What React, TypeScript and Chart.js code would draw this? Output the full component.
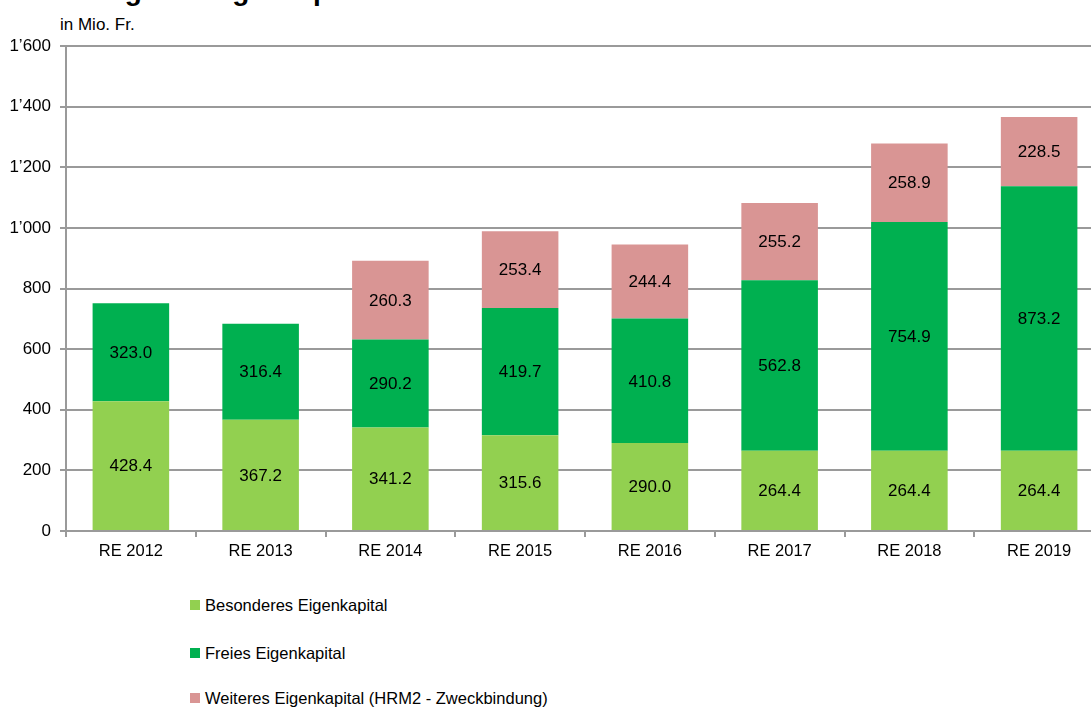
import React, { useEffect, useRef } from "react";
import { Chart, registerables } from "chart.js";

Chart.register(...registerables);

const categories = ["RE 2012", "RE 2013", "RE 2014", "RE 2015", "RE 2016", "RE 2017", "RE 2018", "RE 2019"];
const besonderes = [428.4, 367.2, 341.2, 315.6, 290.0, 264.4, 264.4, 264.4];
const freies = [323.0, 316.4, 290.2, 419.7, 410.8, 562.8, 754.9, 873.2];
const weiteres = [null, null, 260.3, 253.4, 244.4, 255.2, 258.9, 228.5];
const seriesNames = ["Besonderes Eigenkapital", "Freies Eigenkapital", "Weiteres Eigenkapital (HRM2 - Zweckbindung)"];
const seriesColors = ["#92D050", "#00B050", "#D99594"];

const FONT = "'Liberation Sans', Arial, sans-serif";

const fmt = (v: number) => {
  const s = Math.round(v).toString();
  return s.replace(/\B(?=(\d{3})+(?!\d))/g, "\u2019");
};

const labelPlugin = {
  id: "segLabels",
  afterDatasetsDraw(chart: any) {
    const ctx = chart.ctx;
    ctx.save();
    ctx.font = `17px ${FONT}`;
    ctx.fillStyle = "#000";
    ctx.textAlign = "center";
    ctx.textBaseline = "middle";
    chart.data.datasets.forEach((ds: any, di: number) => {
      const meta = chart.getDatasetMeta(di);
      meta.data.forEach((bar: any, i: number) => {
        const v = ds.data[i];
        if (v == null) return;
        const y = (bar.y + bar.base) / 2;
        ctx.fillText(v.toFixed(1), bar.x, y + 1);
      });
    });
    ctx.restore();
  },
};

export default function App() {
  const ref = useRef<HTMLCanvasElement>(null);
  useEffect(() => {
    if (!ref.current) return;
    const chart = new Chart(ref.current, {
      type: "bar",
      data: {
        labels: categories,
        datasets: [
          { label: seriesNames[0], data: besonderes, backgroundColor: seriesColors[0] },
          { label: seriesNames[1], data: freies, backgroundColor: seriesColors[1] },
          { label: seriesNames[2], data: weiteres as any, backgroundColor: seriesColors[2] },
        ],
      },
      options: {
        animation: false,
        responsive: false,
        maintainAspectRatio: false,
        layout: { padding: { top: 46, left: 0, right: 0, bottom: 0 } },
        datasets: { bar: { barPercentage: 0.59, categoryPercentage: 1 } },
        plugins: { legend: { display: false }, tooltip: { enabled: false }, title: { display: false } },
        scales: {
          x: {
            stacked: true,
            offset: true,
            grid: { display: true, drawOnChartArea: false, drawTicks: true, tickLength: 6, color: "#9a9a9a", lineWidth: 2, offset: true },
            border: { display: true, color: "#9a9a9a", width: 2 },
            ticks: { color: "#000", font: { family: FONT, size: 16.5 }, padding: 5, maxRotation: 0 },
            afterFit: (s: any) => { s.height = 39; },
          },
          y: {
            stacked: true,
            min: 0,
            max: 1600,
            grid: { color: "#9a9a9a", lineWidth: 2, drawTicks: true, tickLength: 6 },
            border: { display: true, color: "#9a9a9a", width: 2 },
            ticks: { stepSize: 200, color: "#000", font: { family: FONT, size: 17 }, padding: 9, callback: (v: any) => fmt(Number(v)) },
            afterFit: (s: any) => { s.width = 66; },
          },
        },
      },
      plugins: [labelPlugin],
    });
    return () => chart.destroy();
  }, []);

  const legendItem = (i: number, top: number) => (
    <div key={i} style={{ position: "absolute", left: 190, top: top - 10, height: 20, display: "flex", alignItems: "center", font: `16.5px ${FONT}`, color: "#000", whiteSpace: "nowrap" }}>
      <span style={{ display: "inline-block", width: 10, height: 10, background: seriesColors[i], marginRight: 5 }} />
      {seriesNames[i]}
    </div>
  );

  return (
    <div style={{ position: "absolute", left: 0, top: 0, width: 1091, height: 708, overflow: "hidden", background: "#fff" }}>
      <div style={{ position: "absolute", left: 0, top: 0, width: 1091, height: 9, overflow: "hidden" }}>
        <div style={{ position: "absolute", left: -23, top: -23, font: `bold 28px ${FONT}`, lineHeight: "28px", color: "#000", whiteSpace: "nowrap" }}>
          Entwicklung des Eigenkapitals
        </div>
      </div>
      <div style={{ position: "absolute", left: 60, top: 15, font: `17px ${FONT}`, color: "#000", whiteSpace: "nowrap" }}>in Mio. Fr.</div>
      <canvas ref={ref} width={1104} height={570} style={{ position: "absolute", left: 0, top: 0, width: 1104, height: 570 }} />
      {legendItem(0, 605)}
      {legendItem(1, 653)}
      {legendItem(2, 698)}
    </div>
  );
}
